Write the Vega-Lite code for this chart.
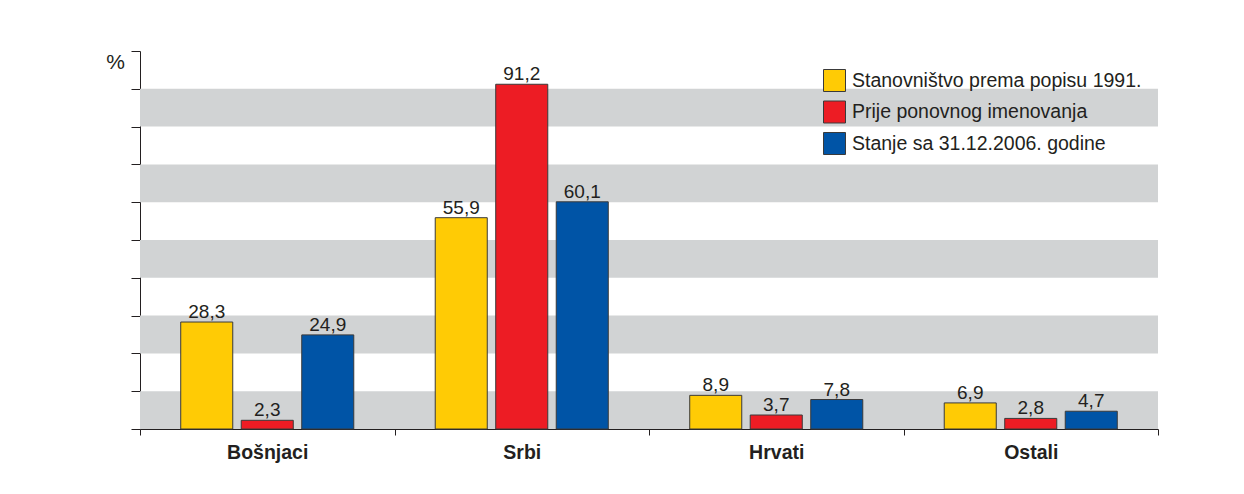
{
  "$schema": "https://vega.github.io/schema/vega-lite/v6.json",
  "autosize": {"type": "none"},
  "padding": {"left": 140, "top": 51, "right": 86, "bottom": 65},
  "width": 1018,
  "height": 378,
  "background": "white",
  "config": {
    "view": {"stroke": null},
    "font": "Liberation Sans",
    "locale": {"number": {"decimal": ",", "thousands": ".", "grouping": [3], "currency": ["", ""]}},
    "axisY": {
      "title": "%", "titleAngle": 0, "titleX": -25, "titleY": 11,
      "titleAlign": "center", "titleBaseline": "middle",
      "titleFontSize": 21, "titleFontWeight": "normal", "titleColor": "#231F20",
      "labels": false, "grid": false, "values": [0, 10, 20, 30, 40, 50, 60, 70, 80, 90, 100],
      "tickSize": 9, "domainColor": "#231F20", "tickColor": "#231F20"
    }
  },
  "layer": [
    {
      "data": {"values": [
        {"lo": 0, "hi": 10}, {"lo": 20, "hi": 30}, {"lo": 40, "hi": 50}, {"lo": 60, "hi": 70}, {"lo": 80, "hi": 90}
      ]},
      "mark": {"type": "rect", "color": "#D1D3D4"},
      "encoding": {
        "y": {
          "field": "lo", "type": "quantitative",
          "scale": {"domain": [0, 100], "nice": false},
          "axis": {"title": "%", "values": [0, 10, 20, 30, 40, 50, 60, 70, 80, 90, 100], "tickCount": 11}
        },
        "y2": {"field": "hi"}
      }
    },
    {
      "data": {"values": [
        {"group": "Bošnjaci", "series": "Stanovništvo prema popisu 1991.", "value": 28.3},
        {"group": "Bošnjaci", "series": "Prije ponovnog imenovanja", "value": 2.3},
        {"group": "Bošnjaci", "series": "Stanje sa 31.12.2006. godine", "value": 24.9},
        {"group": "Srbi", "series": "Stanovništvo prema popisu 1991.", "value": 55.9},
        {"group": "Srbi", "series": "Prije ponovnog imenovanja", "value": 91.2},
        {"group": "Srbi", "series": "Stanje sa 31.12.2006. godine", "value": 60.1},
        {"group": "Hrvati", "series": "Stanovništvo prema popisu 1991.", "value": 8.9},
        {"group": "Hrvati", "series": "Prije ponovnog imenovanja", "value": 3.7},
        {"group": "Hrvati", "series": "Stanje sa 31.12.2006. godine", "value": 7.8},
        {"group": "Ostali", "series": "Stanovništvo prema popisu 1991.", "value": 6.9},
        {"group": "Ostali", "series": "Prije ponovnog imenovanja", "value": 2.8},
        {"group": "Ostali", "series": "Stanje sa 31.12.2006. godine", "value": 4.7}
      ]},
      "encoding": {
        "x": {
          "field": "group", "type": "nominal",
          "sort": ["Bošnjaci", "Srbi", "Hrvati", "Ostali"],
          "scale": {"paddingInner": 0, "paddingOuter": 0},
          "axis": {
            "title": null, "labelAngle": 0, "tickBand": "extent",
            "domainColor": "#231F20", "tickColor": "#231F20", "tickSize": 6,
            "labelFontSize": 19.5, "labelFontWeight": "bold", "labelColor": "#231F20",
            "labelPadding": 8, "labelFont": "Liberation Sans"
          }
        },
        "xOffset": {
          "field": "series", "type": "nominal",
          "sort": ["Stanovništvo prema popisu 1991.", "Prije ponovnog imenovanja", "Stanje sa 31.12.2006. godine"],
          "scale": {"paddingInner": 0.14, "paddingOuter": 0.673}
        },
        "y": {
          "field": "value", "type": "quantitative",
          "scale": {"domain": [0, 100], "nice": false},
          "axis": {"title": "%", "values": [0, 10, 20, 30, 40, 50, 60, 70, 80, 90, 100], "tickCount": 11}
        }
      },
      "layer": [
        {
          "mark": {"type": "bar", "stroke": "#3a3a3a", "strokeWidth": 1},
          "encoding": {
            "color": {
              "field": "series", "type": "nominal",
              "sort": ["Stanovništvo prema popisu 1991.", "Prije ponovnog imenovanja", "Stanje sa 31.12.2006. godine"],
              "scale": {
                "domain": ["Stanovništvo prema popisu 1991.", "Prije ponovnog imenovanja", "Stanje sa 31.12.2006. godine"],
                "range": ["#FFCB05", "#ED1C24", "#0054A6"]
              },
              "legend": {
                "title": null, "orient": "none", "legendX": 683, "legendY": 18, "padding": 0,
                "symbolType": "square", "symbolSize": 484, "symbolStrokeColor": "#3a3a3a", "symbolStrokeWidth": 1,
                "symbolOpacity": 1, "labelFontSize": 19.5, "labelColor": "#231F20", "labelOffset": 6,
                "rowPadding": 4.5, "labelLimit": 400
              }
            }
          }
        },
        {
          "mark": {"type": "text", "baseline": "alphabetic", "dy": -4, "fontSize": 19, "color": "#231F20"},
          "encoding": {
            "text": {"field": "value", "type": "quantitative", "format": ".1f"}
          }
        }
      ]
    }
  ]
}
